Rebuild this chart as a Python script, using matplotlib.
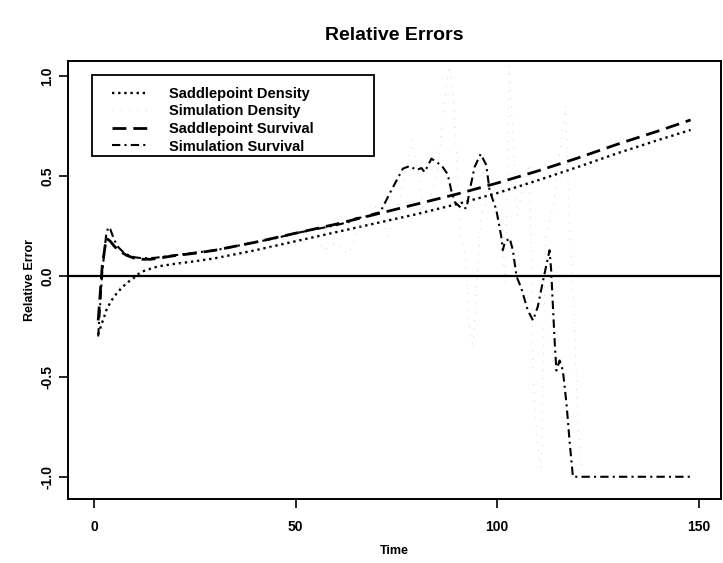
import matplotlib.pyplot as plt
from matplotlib.patches import Rectangle

# relative error curves, read at selected time points
sp_dens_t = [1, 2, 3, 4, 5, 6, 7, 8, 9, 10, 11, 12, 14, 16, 18, 20, 25, 30, 35, 40,
             50, 60, 70, 80, 90, 100, 110, 120, 130, 140, 148]
sp_dens = [-0.29, -0.23, -0.17, -0.13, -0.10, -0.075, -0.055, -0.035, -0.02, -0.005,
           0.012, 0.024, 0.038, 0.05, 0.056, 0.062, 0.075, 0.09, 0.11, 0.13,
           0.175, 0.22, 0.265, 0.31, 0.36, 0.415, 0.478, 0.545, 0.615, 0.68, 0.73]

sim_dens_t = [1, 3, 6, 10, 15, 20, 25, 30, 35, 40, 45, 50, 55, 57, 60, 63, 66, 70, 73,
              76, 79, 82, 85, 88, 89, 91, 92, 93, 94, 96, 99, 101, 102, 103, 105, 106,
              108, 109, 110, 111, 112, 114, 116, 117, 118, 119, 120, 121]
sim_dens = [-0.28, -0.15, -0.06, 0.0, 0.04, 0.06, 0.07, 0.09, 0.10, 0.12, 0.15, 0.16,
            0.20, 0.13, 0.17, 0.11, 0.25, 0.35, 0.20, 0.40, 0.68, 0.30, 0.50, 1.05,
            0.94, 0.20, 0.12, -0.24, -0.36, 0.30, 0.45, 0.20, -0.03, 1.05, 0.30, 0.41,
            0.56, -0.53, -0.85, -0.96, 0.20, 0.35, 0.70, 0.85, 0.20, -0.13, -0.75, -0.95]

sp_surv_t = [1, 2, 3, 4, 5, 6, 8, 10, 12, 14, 16, 18, 20, 25, 30, 40, 50, 60, 70, 80,
             90, 100, 110, 120, 130, 140, 148]
sp_surv = [-0.22, 0.05, 0.19, 0.175, 0.15, 0.13, 0.105, 0.09, 0.085, 0.085, 0.09, 0.097,
           0.103, 0.115, 0.13, 0.17, 0.215, 0.26, 0.31, 0.36, 0.41, 0.465, 0.525, 0.59,
           0.66, 0.725, 0.78]

sim_surv_t = [1, 2, 3, 3.5, 4, 5, 6, 7, 8, 10, 12, 15, 18, 20, 25, 30, 35, 40, 45, 50,
              55, 60, 63, 65, 67, 69, 71, 73.5, 76.6, 78.3, 80, 81.2, 82, 83.7, 84.9,
              86.2, 87.7, 88.6, 89.5, 91.1, 92.4, 93.2, 94.4, 95.9, 97.3, 98.1, 99.8,
              101, 101.4, 101.9, 103.1, 103.9, 104.8, 106, 107.6, 108.9, 110.1, 111.4,
              113, 113.4, 113.8, 114.3, 114.7, 115.5, 116.3, 117.2, 118, 118.8, 148]
sim_surv = [-0.30, 0.02, 0.21, 0.245, 0.235, 0.18, 0.145, 0.125, 0.11, 0.095, 0.09,
            0.092, 0.10, 0.105, 0.118, 0.13, 0.15, 0.17, 0.19, 0.215, 0.235, 0.255,
            0.27, 0.29, 0.295, 0.31, 0.32, 0.42, 0.537, 0.55, 0.53, 0.54, 0.52, 0.587,
            0.57, 0.553, 0.51, 0.43, 0.37, 0.34, 0.34, 0.43, 0.545, 0.61, 0.555, 0.43,
            0.33, 0.20, 0.13, 0.17, 0.19, 0.13, 0.0, -0.06, -0.17, -0.22, -0.15, -0.02,
            0.13, 0.03, -0.136, -0.336, -0.47, -0.42, -0.47, -0.635, -0.83, -1.0, -1.0]

plt.rcParams['font.family'] = ['Liberation Sans', 'DejaVu Sans']

fig = plt.figure(figsize=(7.23, 5.63), dpi=100)
ax = fig.add_axes([0.094, 0.114, 0.903, 0.778])

ax.plot(sp_dens_t, sp_dens, color='black', lw=1.7, linestyle=(0, (1.0, 1.6)),
        label='Saddlepoint Density')
ax.plot(sim_dens_t, sim_dens, color='#c4c4c4', lw=0.6, linestyle=(0, (1, 9)),
        label='Simulation Density')
ax.plot(sp_surv_t, sp_surv, color='black', lw=2.0, linestyle=(0, (5, 2.5)),
        label='Saddlepoint Survival')
ax.plot(sim_surv_t, sim_surv, color='black', lw=1.5, linestyle=(0, (4, 2, 1, 2)),
        label='Simulation Survival')
ax.axhline(0, color='black', lw=1.6)

ax.set_xlim(-6.5, 155.5)
ax.set_ylim(-1.11, 1.075)
ax.set_xticks([0, 50, 100, 150])
ax.set_yticks([-1.0, -0.5, 0.0, 0.5, 1.0])
ax.set_yticklabels(['-1.0', '-0.5', '0.0', '0.5', '1.0'], rotation=90, va='center')
ax.tick_params(direction='out', length=6.5, width=1.2, labelsize=10)
ax.tick_params(axis='x', pad=8.5)
ax.tick_params(axis='y', pad=3.5)
for lab in ax.get_xticklabels() + ax.get_yticklabels():
    lab.set_fontweight('bold')
for s in ax.spines.values():
    s.set_linewidth(1.4)

ax.set_title('Relative Errors', fontsize=14, fontweight='bold', pad=15)
ax.set_xlabel('Time', fontsize=9, fontweight='bold', labelpad=8)
ax.set_ylabel('Relative Error', fontsize=9, fontweight='bold', labelpad=3)

# legend box drawn separately so it can be wider than its text
ax.add_patch(Rectangle((0.0368, 0.7826), 0.4319, 0.185, transform=ax.transAxes,
                       fill=True, facecolor='white', edgecolor='black', lw=1.3,
                       zorder=4))
leg = ax.legend(loc='upper left', bbox_to_anchor=(0.067, 0.941), frameon=False,
                handlelength=2.5, handletextpad=1.4, labelspacing=0.25,
                borderpad=0, borderaxespad=0,
                prop={'weight': 'bold', 'size': 10.5})
leg.set_zorder(5)

fig.savefig('out.png', dpi=100)
